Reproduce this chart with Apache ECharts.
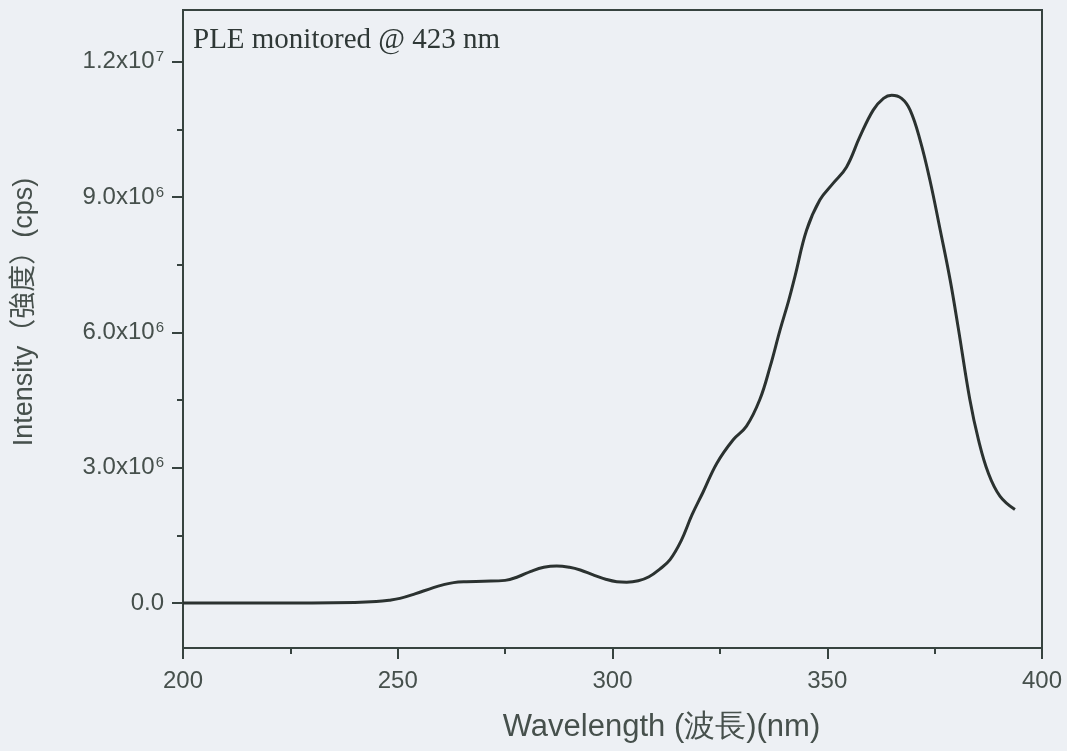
<!DOCTYPE html>
<html>
<head>
<meta charset="utf-8">
<script src="https://cdn.jsdelivr.net/npm/echarts@6/dist/echarts.min.js"></script>
<style>
html,body{margin:0;padding:0;background:#edf0f4;}
#chart{width:1067px;height:751px;}
</style>
</head>
<body>
<div id="chart"></div>
<script>
// Wavelength (nm)
const wavelengths = [200, 210, 220, 230, 240, 245, 248, 250.5, 254, 258.3, 260.5, 263, 266, 270, 275, 278, 281, 284, 287, 290, 292.5, 295.5, 298.6, 301, 303.3, 306, 308.5, 311, 313.4, 316, 318.5, 321.1, 324.3, 328.1, 331.2, 334.3, 336.7, 339, 341, 342.5, 345.2, 348.3, 351.4, 354.5, 357.6, 360.7, 363.1, 365, 367.3, 369.3, 371.6, 373.9, 376.3, 378.6, 380.5, 383.2, 385.2, 387.5, 390.2, 393.7];
// Intensity (cps)
const intensity = [0, 0, 0, 0, 0.01e6, 0.03e6, 0.06e6, 0.10e6, 0.20e6, 0.34e6, 0.40e6, 0.45e6, 0.47e6, 0.48e6, 0.50e6, 0.58e6, 0.70e6, 0.79e6, 0.82e6, 0.79e6, 0.73e6, 0.62e6, 0.52e6, 0.47e6, 0.46e6, 0.49e6, 0.58e6, 0.75e6, 0.96e6, 1.38e6, 1.95e6, 2.46e6, 3.10e6, 3.62e6, 3.92e6, 4.51e6, 5.24e6, 6.05e6, 6.70e6, 7.25e6, 8.27e6, 8.94e6, 9.31e6, 9.67e6, 10.34e6, 10.93e6, 11.19e6, 11.26e6, 11.19e6, 10.93e6, 10.27e6, 9.38e6, 8.27e6, 7.17e6, 6.10e6, 4.51e6, 3.62e6, 2.88e6, 2.37e6, 2.07e6];
const yMajorTicks = [0, 3e6, 6e6, 9e6, 12e6];
const yMinorTicks = [1.5e6, 4.5e6, 7.5e6, 10.5e6];
const yTickLabels = {0: '0.0', 3000000: '3.0x10{s|6}', 6000000: '6.0x10{s|6}', 9000000: '9.0x10{s|6}', 12000000: '1.2x10{s|7}'};
const xTitle = 'Wavelength (波長)(nm)';
const yTitle = 'Intensity（強度）(cps)';
const annotation = 'PLE monitored @ 423 nm';

const axisColor = '#37433f';
const textColor = '#46504c';
const yMin = -1.0e6, yMax = 13.15e6;

const chart = echarts.init(document.getElementById('chart'), null, {renderer: 'canvas'});
chart.setOption({
  backgroundColor: '#edf0f4',
  animation: false,
  title: {
    text: annotation,
    left: 188, top: 21,
    textStyle: {fontFamily: 'Liberation Serif', fontSize: 29, fontWeight: 'normal', color: '#2f3836'}
  },
  grid: {
    left: 183, right: 25, top: 10, bottom: 103,
    show: true, borderColor: axisColor, borderWidth: 2, backgroundColor: 'transparent',
    containLabel: false, outerBoundsMode: 'none'
  },
  xAxis: {
    type: 'value', min: 200, max: 400, interval: 50,
    name: xTitle, nameLocation: 'middle', nameGap: 64,
    nameMoveOverlap: false,
    nameTextStyle: {fontFamily: 'Liberation Sans', fontSize: 31, color: textColor, padding: [0, 0, 0, 98]},
    axisLine: {show: true, onZero: false, lineStyle: {color: axisColor, width: 2}},
    axisTick: {show: true, length: 11, lineStyle: {color: axisColor, width: 2}},
    minorTick: {show: true, splitNumber: 2, length: 6, lineStyle: {color: axisColor, width: 2}},
    splitLine: {show: false},
    axisLabel: {margin: 21, fontFamily: 'Liberation Sans', fontSize: 24, color: textColor}
  },
  yAxis: [{
    type: 'value', min: yMin, max: yMax,
    name: yTitle, nameLocation: 'middle', nameGap: 145,
    nameMoveOverlap: false,
    nameTextStyle: {fontFamily: 'Liberation Sans, Noto Sans CJK TC', fontSize: 27, color: textColor, padding: [0, 0, 0, 34]},
    axisLine: {show: true, onZero: false, lineStyle: {color: axisColor, width: 2}},
    axisTick: {show: true, length: 11, customValues: yMajorTicks, lineStyle: {color: axisColor, width: 2}},
    splitLine: {show: false},
    axisLabel: {
      customValues: yMajorTicks, margin: 19,
      formatter: v => yTickLabels[Math.round(v)] || '',
      fontFamily: 'Liberation Sans', fontSize: 24, color: textColor,
      rich: {
        s: {fontFamily: 'Liberation Sans', fontSize: 15, color: textColor, verticalAlign: 'top', lineHeight: 15, padding: [0, 0, 14, 1]}
      }
    }
  }, {
    type: 'value', min: yMin, max: yMax, position: 'left',
    axisLine: {show: false},
    axisTick: {show: true, length: 6, customValues: yMinorTicks, lineStyle: {color: axisColor, width: 2}},
    axisLabel: {show: false},
    splitLine: {show: false}
  }],
  series: [{
    type: 'line',
    data: wavelengths.map((w, i) => [w, intensity[i]]),
    xAxisIndex: 0, yAxisIndex: 0,
    smooth: 0.4,
    showSymbol: false,
    lineStyle: {color: '#2b3230', width: 3}
  }]
});
</script>
</body>
</html>
